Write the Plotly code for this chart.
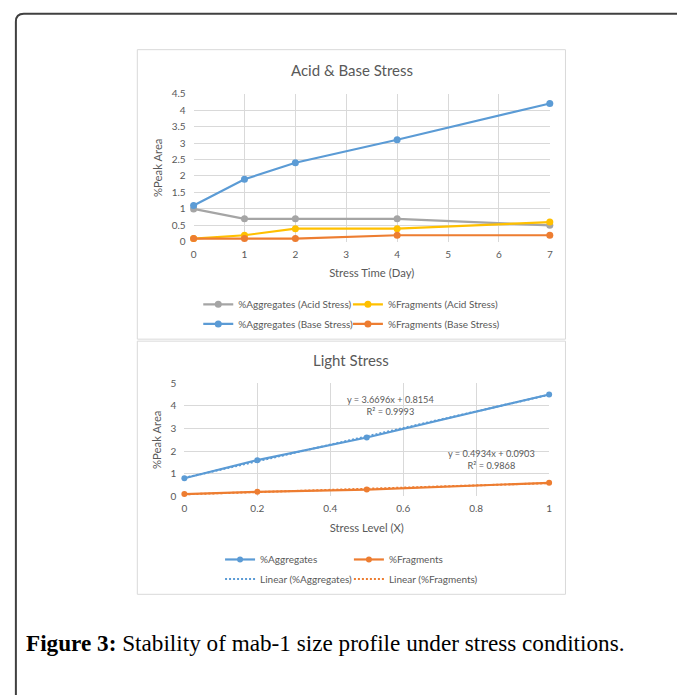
import numpy as np
import plotly.graph_objects as go

W, H = 677, 695

# ---------------- data ----------------
days = [0, 1, 2, 4, 7]
agg_acid = [1.0, 0.7, 0.7, 0.7, 0.5]
frag_acid = [0.1, 0.2, 0.4, 0.4, 0.6]
agg_base = [1.1, 1.9, 2.4, 3.1, 4.2]
frag_base = [0.1, 0.1, 0.1, 0.2, 0.2]

light_level = [0, 0.2, 0.5, 1]
light_agg = [0.8, 1.6, 2.6, 4.5]
light_frag = [0.1, 0.2, 0.3, 0.6]

eq_labels = ["y = 3.6696x + 0.8154<br>R² = 0.9993", "y = 0.4934x + 0.0903<br>R² = 0.9868"]

top_title = "Acid & Base Stress"
bottom_title = "Light Stress"
caption = "<b>Figure 3:</b> Stability of mab-1 size profile under stress conditions."

# ---------------- helpers ----------------
def px(x):
    return x / W


def py(y):
    return 1 - y / H


GRAY = "#A5A5A5"
YELLOW = "#FFC000"
BLUE = "#5B9BD5"
ORANGE = "#ED7D31"
TXT = "#595959"
GRID = "#D9D9D9"
FONT = "Lato"

fig = go.Figure()

# top chart (one legend box per entry, to place them like the original)
top_series = [
    ("%Aggregates (Acid Stress)", agg_acid, GRAY, "legend"),
    ("%Fragments (Acid Stress)", frag_acid, YELLOW, "legend2"),
    ("%Aggregates (Base Stress)", agg_base, BLUE, "legend3"),
    ("%Fragments (Base Stress)", frag_base, ORANGE, "legend4"),
]
for name, vals, col, lg in top_series:
    fig.add_trace(go.Scatter(
        x=days, y=vals, name=name, mode="lines+markers",
        line=dict(color=col, width=2.2), marker=dict(color=col, size=7),
        xaxis="x", yaxis="y", legend=lg, cliponaxis=False,
    ))

# bottom chart
fig.add_trace(go.Scatter(
    x=light_level, y=light_agg, name="%Aggregates", mode="lines+markers",
    line=dict(color=BLUE, width=2.2), marker=dict(color=BLUE, size=6),
    xaxis="x2", yaxis="y2", legend="legend5", cliponaxis=False,
))
fig.add_trace(go.Scatter(
    x=light_level, y=light_frag, name="%Fragments", mode="lines+markers",
    line=dict(color=ORANGE, width=2.2), marker=dict(color=ORANGE, size=6),
    xaxis="x2", yaxis="y2", legend="legend6", cliponaxis=False,
))

xfit = np.array([min(light_level), max(light_level)])
for name, vals, col, lg in [
    ("Linear (%Aggregates)", light_agg, BLUE, "legend7"),
    ("Linear (%Fragments)", light_frag, ORANGE, "legend8"),
]:
    m, b = np.polyfit(light_level, vals, 1)
    fig.add_trace(go.Scatter(
        x=xfit, y=m * xfit + b, name=name, mode="lines",
        line=dict(color=col, width=2, dash="2px,2px"),
        xaxis="x2", yaxis="y2", legend=lg, cliponaxis=False,
    ))

axis_common = dict(
    showgrid=True, gridcolor=GRID, gridwidth=1, zeroline=False, showline=False,
    ticks="", tickfont=dict(family=FONT, size=10, color=TXT),
    title_font=dict(family=FONT, size=11.3, color=TXT),
)


def legend_at(x, y, size):
    return dict(
        x=px(x), y=py(y), orientation="h", xanchor="left", yanchor="middle",
        bgcolor="rgba(0,0,0,0)", borderwidth=0,
        itemwidth=30, itemclick=False, itemdoubleclick=False,
        font=dict(family=FONT, size=size, color=TXT),
    )


fig.update_layout(
    width=W, height=H,
    margin=dict(l=0, r=0, t=0, b=0),
    paper_bgcolor="white", plot_bgcolor="white",
    showlegend=True,
    xaxis=dict(domain=[px(192.3), px(551.7)], range=[0, 7], dtick=1, anchor="y",
               title=dict(text="Stress Time (Day)", standoff=10), ticklabelstandoff=5,
               **axis_common),
    yaxis=dict(domain=[py(239.3), py(88.3)], range=[0, 4.5], dtick=0.5, anchor="x",
               title=dict(text="%Peak Area", standoff=6), ticklabelstandoff=7,
               **axis_common),
    xaxis2=dict(domain=[px(183), px(551)], range=[0, 1], dtick=0.2, anchor="y2",
                title=dict(text="Stress Level (X)", standoff=10), ticklabelstandoff=5,
                **axis_common),
    yaxis2=dict(domain=[py(498.7), py(383.3)], range=[0, 5], dtick=1, anchor="x2",
                title=dict(text="%Peak Area", standoff=6), ticklabelstandoff=7,
                **axis_common),
    legend=legend_at(197, 303, 10),
    legend2=legend_at(348, 303, 10),
    legend3=legend_at(197, 323, 10),
    legend4=legend_at(348, 323, 10),
    legend5=legend_at(219, 563, 10),
    legend6=legend_at(349, 563, 10),
    legend7=legend_at(219, 583, 10),
    legend8=legend_at(349, 583, 10),
)

# titles
fig.add_annotation(text=top_title, x=px(352), y=py(64), xref="paper", yref="paper",
                   showarrow=False, xanchor="center", yanchor="middle",
                   font=dict(family=FONT, size=15, color=TXT))
fig.add_annotation(text=bottom_title, x=px(351), y=py(360), xref="paper", yref="paper",
                   showarrow=False, xanchor="center", yanchor="middle",
                   font=dict(family=FONT, size=15, color=TXT))

# trendline equations
for txt, (cx, cy) in zip(eq_labels, [(391, 406), (493, 461)]):
    fig.add_annotation(text=txt, x=px(cx), y=py(cy), xref="paper", yref="paper",
                       showarrow=False, xanchor="center", yanchor="middle", align="center",
                       font=dict(family=FONT, size=9.2, color=TXT))

# caption
fig.add_annotation(text=caption, x=px(21), y=py(648), xref="paper", yref="paper",
                   showarrow=False, xanchor="left", yanchor="middle",
                   font=dict(family="Liberation Serif", size=23.2, color="black"))

# panel borders
for (x0, y0, x1, y1) in [(135.5, 43.5, 567.5, 338.5), (135.5, 340.5, 567.5, 598.5)]:
    fig.add_shape(type="rect", xref="paper", yref="paper",
                  x0=px(x0), x1=px(x1), y0=py(y0), y1=py(y1),
                  line=dict(color=GRID, width=1), layer="below")

# outer rounded frame
path = (f"M {px(13)},{py(710)} L {px(13)},{py(15)} "
        f"Q {px(13)},{py(7)} {px(21)},{py(7)} L {px(700)},{py(7)}")
fig.add_shape(type="path", path=path, xref="paper", yref="paper",
              line=dict(color="#404040", width=2))

fig.write_html(
    "out.html",
    config={"displayModeBar": False},
    post_script="document.body.style.margin='0';document.body.style.overflow='hidden';",
)
